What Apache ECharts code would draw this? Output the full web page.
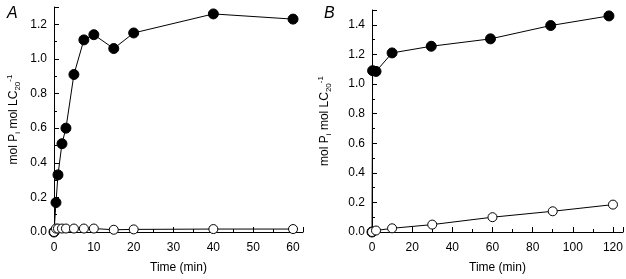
<!DOCTYPE html>
<html>
<head>
<meta charset="utf-8">
<script src="https://cdn.jsdelivr.net/npm/echarts@6/dist/echarts.min.js"></script>
<style>
  html, body { margin: 0; padding: 0; background: #fff; }
  #chart { width: 626px; height: 279px; }
</style>
</head>
<body>
<div id="chart"></div>
<script>
// panel A (0-60 min)
const timeA = [0, 0.5, 1, 2, 3, 5, 7.5, 10, 15, 20, 40, 60];
const filledA = [0, 0.17, 0.33, 0.51, 0.60, 0.91, 1.11, 1.14, 1.06, 1.15, 1.26, 1.23];
const openA = [0, 0.02, 0.02, 0.02, 0.02, 0.02, 0.02, 0.02, 0.013, 0.015, 0.017, 0.017];
// panel B (0-120 min)
const timeBFilled = [0, 0.3, 2, 10, 29.5, 59, 89, 118];
const filledB = [0, 1.09, 1.085, 1.21, 1.255, 1.305, 1.395, 1.46];
const timeBOpen = [0, 2, 10, 30, 60, 90, 120];
const openB = [0, 0.01, 0.025, 0.05, 0.10, 0.14, 0.185];

const pairs = (xs, ys) => xs.map((x, i) => [x, ys[i]]);

const font = "Liberation Sans, Arial, sans-serif";
const yName = "{n|mol P}{sub|i}{n| mol LC}{sub|20}{sup|-1}";
const nameRich = {
  n: { fontSize: 12, fontFamily: font, color: "#000" },
  sub: { fontSize: 8, fontFamily: font, color: "#000", padding: [8, 0, 0, 0] },
  sup: { fontSize: 8, fontFamily: font, color: "#000", padding: [0, 0, 8, 0] },
};

const axisBase = {
  axisLine: { show: true, lineStyle: { color: "#000", width: 1 } },
  axisTick: { show: true, inside: true, length: 5, lineStyle: { color: "#000" } },
  minorTick: { show: true, splitNumber: 2, length: 3, lineStyle: { color: "#000" } },
  splitLine: { show: false },
  axisLabel: { color: "#000", fontSize: 12, fontFamily: font, showMaxLabel: false },
};

const xAxis = (idx, max, interval) => ({
  ...axisBase,
  type: "value",
  gridIndex: idx,
  min: 0,
  max: max,
  interval: interval,
  name: "Time (min)",
  nameLocation: "middle",
  nameGap: 30,
  nameTextStyle: { color: "#000", fontSize: 12, fontFamily: font },
  axisLabel: { ...axisBase.axisLabel, margin: 10 },
});

const yAxis = (idx, max, gap) => ({
  ...axisBase,
  type: "value",
  gridIndex: idx,
  min: 0,
  max: max,
  interval: 0.2,
  name: yName,
  nameLocation: "middle",
  nameGap: gap,
  nameTextStyle: { rich: nameRich },
  axisLabel: {
    ...axisBase.axisLabel,
    margin: 7,
    formatter: (v) => v.toFixed(1),
  },
});

const filledStyle = {
  type: "line",
  symbol: "circle",
  symbolSize: 10,
  lineStyle: { color: "#000", width: 1 },
  itemStyle: { color: "#000", borderColor: "#000", borderWidth: 1 },
  z: 3,
};
const openStyle = {
  type: "line",
  symbol: "circle",
  symbolSize: 9,
  lineStyle: { color: "#000", width: 1 },
  itemStyle: { color: "#fff", borderColor: "#000", borderWidth: 1 },
  z: 4,
};

const chart = echarts.init(document.getElementById("chart"), null, { renderer: "canvas" });
chart.setOption({
  animation: false,
  backgroundColor: "#fff",
  title: [
    { text: "A", left: 2, top: 1, textStyle: { fontSize: 16, fontStyle: "italic", fontWeight: "normal", fontFamily: font, color: "#000" } },
    { text: "B", left: 319, top: 1, textStyle: { fontSize: 16, fontStyle: "italic", fontWeight: "normal", fontFamily: font, color: "#000" } },
  ],
  grid: [
    { left: 54, top: 7, width: 249, height: 225 },
    { left: 372, top: 10, width: 251, height: 225 },
  ],
  xAxis: [xAxis(0, 62.5, 10), xAxis(1, 125, 20)],
  yAxis: [yAxis(0, 1.3, 32), yAxis(1, 1.5, 39)],
  series: [
    { ...filledStyle, xAxisIndex: 0, yAxisIndex: 0, data: pairs(timeA, filledA) },
    { ...openStyle, xAxisIndex: 0, yAxisIndex: 0, data: pairs(timeA, openA) },
    { ...filledStyle, xAxisIndex: 1, yAxisIndex: 1, data: pairs(timeBFilled, filledB) },
    { ...openStyle, xAxisIndex: 1, yAxisIndex: 1, data: pairs(timeBOpen, openB) },
  ],
});
</script>
</body>
</html>
